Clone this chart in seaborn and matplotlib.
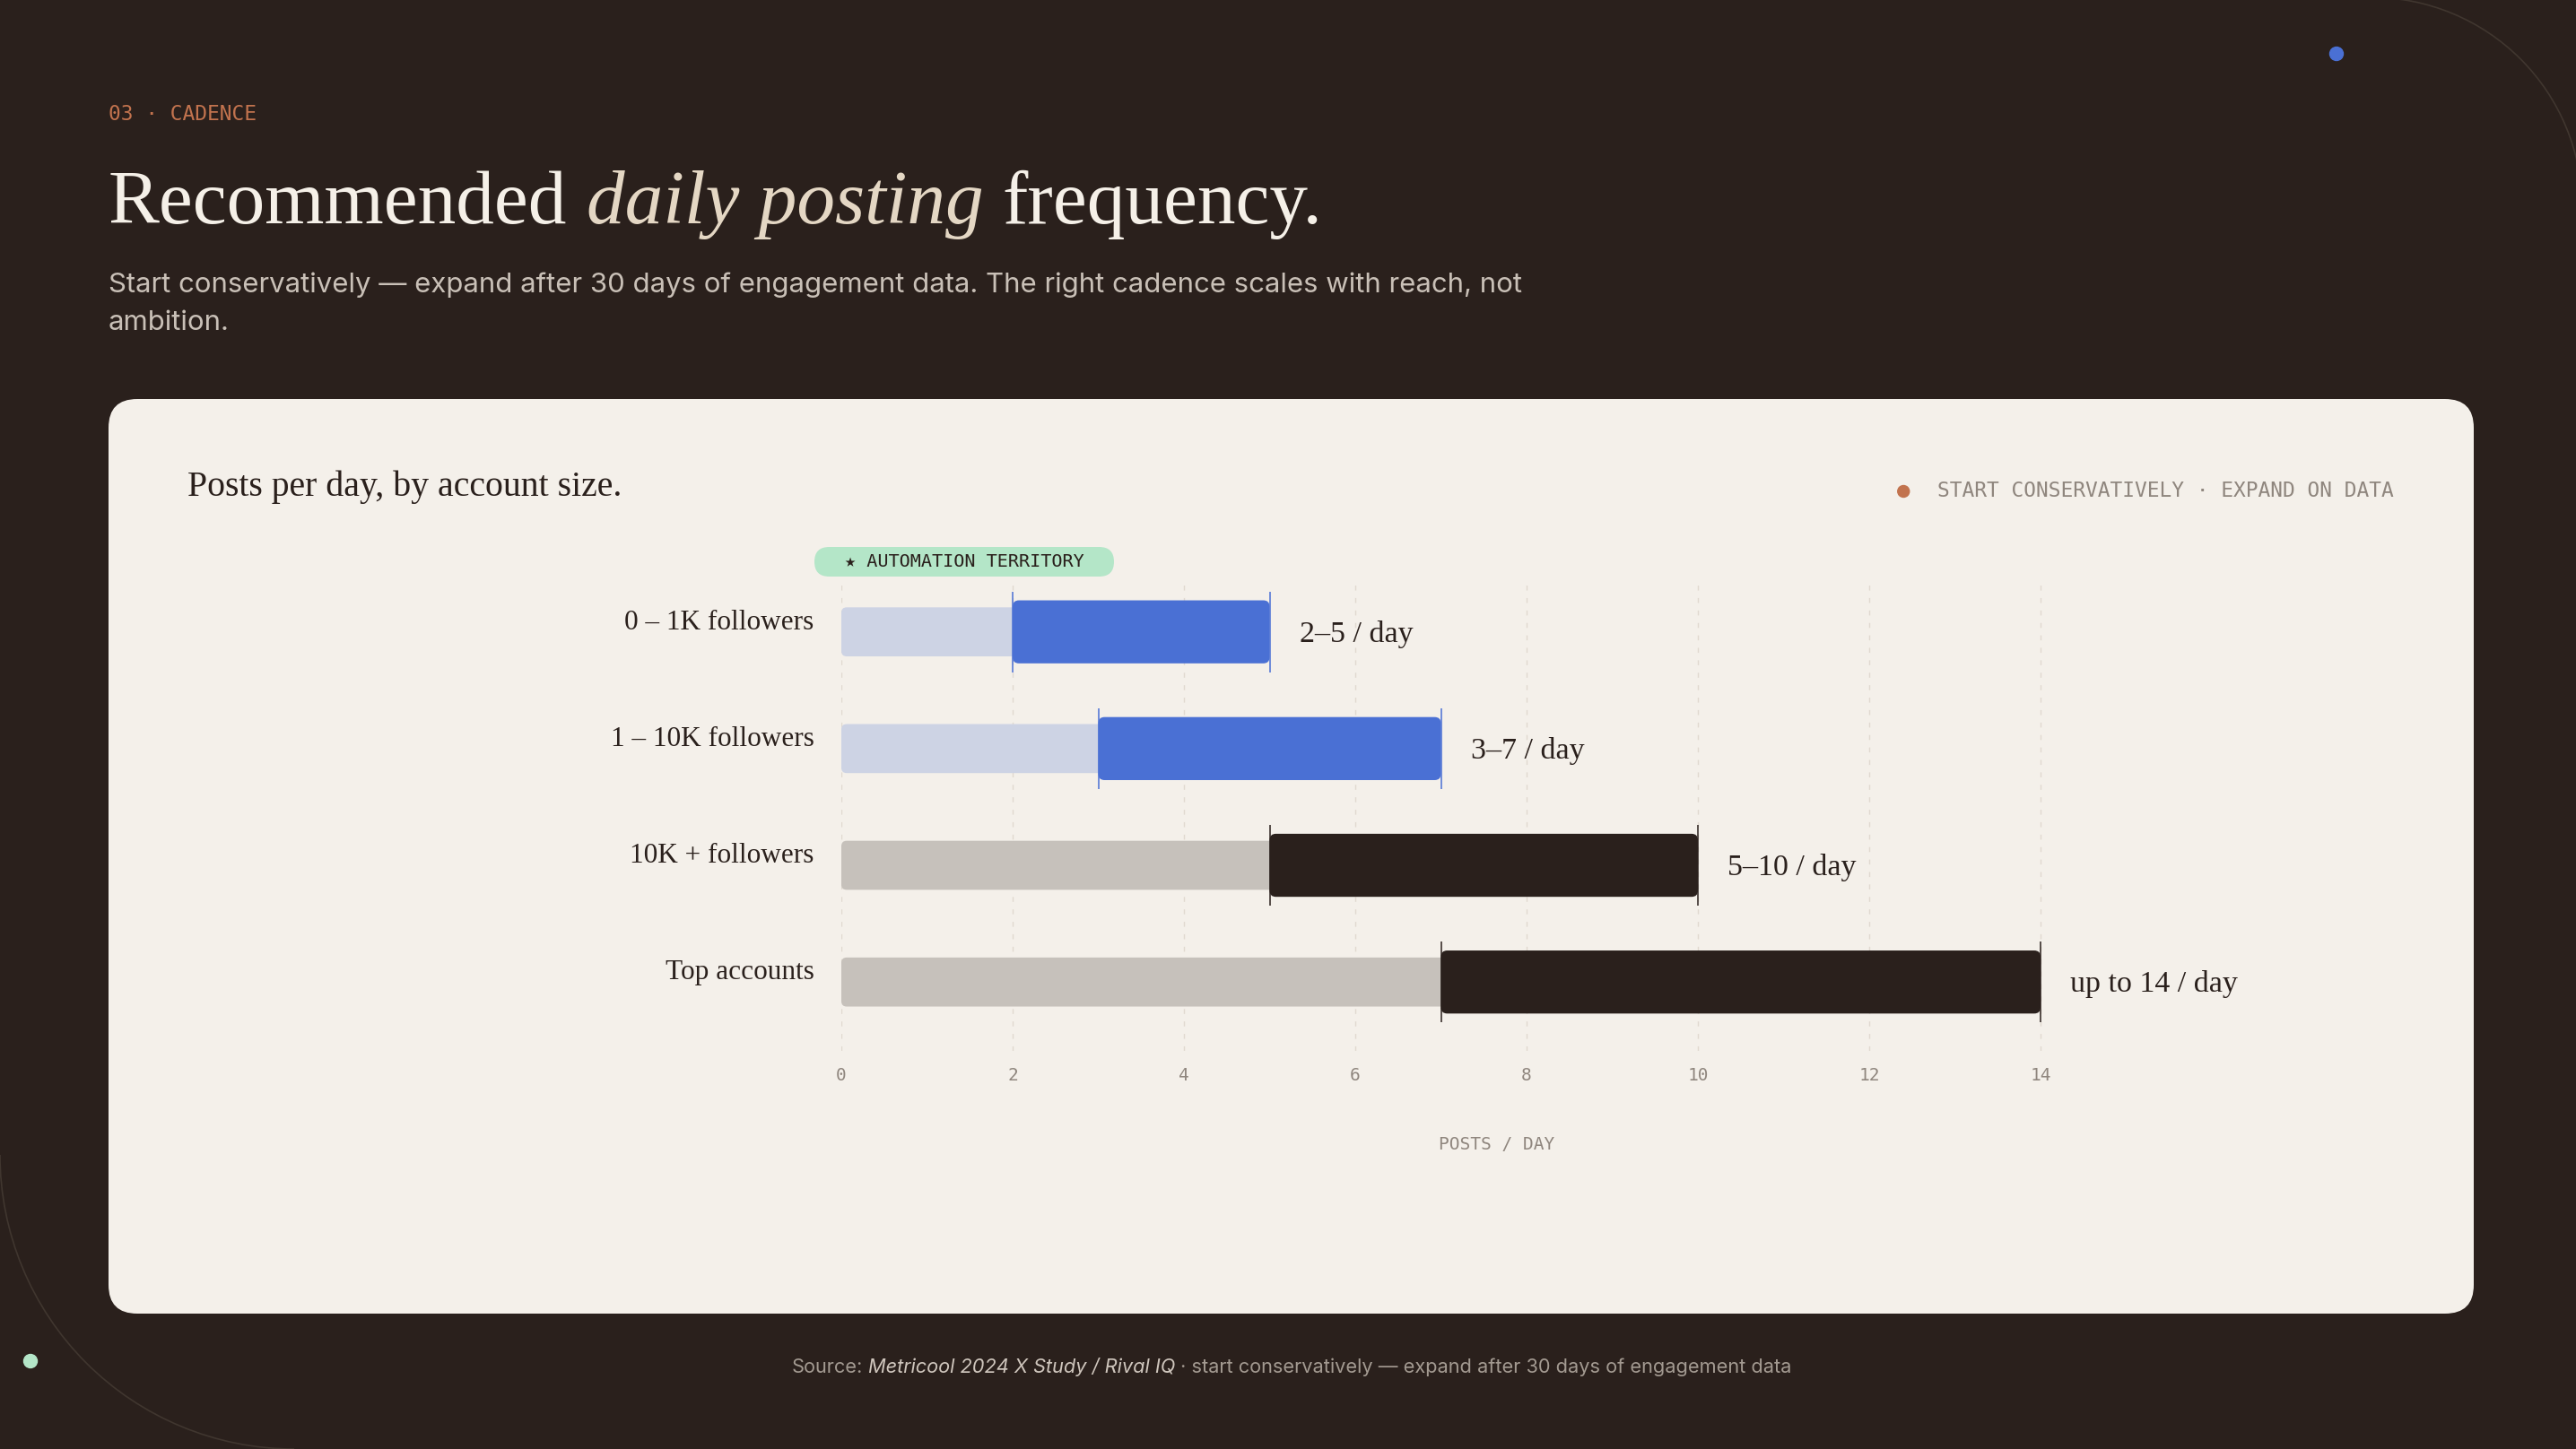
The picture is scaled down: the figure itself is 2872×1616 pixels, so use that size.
# Posting cadence chart: recommended posts per day by account size
import numpy as np
import pandas as pd
import matplotlib.pyplot as plt
import seaborn as sns
from matplotlib.patches import FancyBboxPatch, Arc, Circle

# Chart values
tiers = ["0 – 1K followers", "1 – 10K followers", "10K + followers", "Top accounts"]
posts_low = [2, 3, 5, 7]
posts_high = [5, 7, 10, 14]
range_labels = ["2–5 / day", "3–7 / day", "5–10 / day", "up to 14 / day"]
x_ticks = [0, 2, 4, 6, 8, 10, 12, 14]

# Colours
BG = "#2a201c"
CARD = "#f4f0ea"
INK = "#2a201c"
BLUE = "#4a70d4"
MINT = "#b4e6c8"
RUST = "#c2734e"
MUTED = "#8f867e"
GRID = "#e0d9d0"
track_colors = ["#cdd3e4", "#cdd3e4", "#c6c1bb", "#c6c1bb"]
range_colors = [BLUE, BLUE, INK, INK]

SERIF = ["Liberation Serif", "DejaVu Serif"]
SANS = ["Inter", "DejaVu Sans"]
MONO = ["DejaVu Sans Mono", "DejaVu Sans"]

W, H = 2872, 1616
sns.set_theme(style="white")
plt.rcParams["font.family"] = SANS

fig = plt.figure(figsize=(W / 100, H / 100), dpi=100, facecolor=BG)
renderer = fig.canvas.get_renderer()

# backdrop axes working in pixels, origin top left
bg = fig.add_axes([0, 0, 1, 1])
bg.set_xlim(0, W)
bg.set_ylim(H, 0)
bg.axis("off")

# decorative arcs and dots
bg.add_patch(Arc((2644, 232), 470, 470, theta1=270, theta2=360, color="#40362f", lw=1.2))
bg.add_patch(Arc((328, 1288), 656, 656, theta1=90, theta2=180, color="#40362f", lw=1.2))
bg.add_patch(Circle((2605, 60), 7.5, color=BLUE))
bg.add_patch(Circle((34, 1518), 7.5, color=MINT))

# card
bg.add_patch(FancyBboxPatch((121, 445), 2637, 1020, boxstyle="round,pad=0,rounding_size=32",
                            fc=CARD, ec="none"))


def measure(s, size, **kw):
    t = bg.text(0, 0, s, fontsize=size, **kw)
    w = t.get_window_extent(renderer=renderer).width
    t.remove()
    return w


def run(x, y, parts, size, target=None, align="left", **common):
    # lay text pieces side by side, optionally scaling them to a target width
    def layout(sz):
        widths, gaps = [], []
        for i, (s, st) in enumerate(parts):
            props = {**common, **st}
            widths.append(measure(s.strip(), sz, **props))
            nxt = parts[i + 1][0] if i < len(parts) - 1 else ""
            if nxt and (s.endswith(" ") or nxt.startswith(" ")):
                gaps.append(measure("x x", sz, **props) - measure("xx", sz, **props))
            else:
                gaps.append(0.0)
        return widths, gaps

    widths, gaps = layout(size)
    if target:
        size *= target / (sum(widths) + sum(gaps))
        widths, gaps = layout(size)
    total = sum(widths) + sum(gaps)
    x0 = {"left": x, "center": x - total / 2, "right": x - total}[align]
    for (s, st), w, g in zip(parts, widths, gaps):
        bg.text(x0, y, s.strip(), fontsize=size, ha="left", **{**common, **st})
        x0 += w + g
    return size


# header
bg.text(121, 128, "03 · CADENCE", family=MONO, fontsize=16.5, color=RUST, va="center")
run(121, 249, [("Recommended ", {"color": "#f5f0e8"}),
               ("daily posting ", {"color": "#e4d7c4", "style": "italic"}),
               ("frequency.", {"color": "#f5f0e8"})],
    60, target=1355, family=SERIF, va="baseline")
sub_size = run(121, 326, [("Start conservatively — expand after 30 days of engagement data. "
                           "The right cadence scales with reach, not", {})],
               20, target=1575, family=SANS, color="#c9c0b7", va="baseline")
bg.text(121, 368, "ambition.", family=SANS, fontsize=sub_size, color="#c9c0b7", va="baseline")

# card header and legend
run(209, 553, [("Posts per day, by account size.", {})], 28, target=484,
    family=SERIF, color=INK, va="baseline")
leg = bg.text(2669, 548, "START CONSERVATIVELY · EXPAND ON DATA", ha="right", va="center",
              family=MONO, fontsize=16.5, color=MUTED)
leg_left = leg.get_window_extent(renderer=renderer).x0
bg.add_patch(Circle((leg_left - 38, 548), 6.5, color=RUST))

# automation pill
bg.add_patch(FancyBboxPatch((908, 610), 334, 33, boxstyle="round,pad=0,rounding_size=16.5",
                            fc=MINT, ec="none"))
bg.text(1075, 627, "★ AUTOMATION TERRITORY", ha="center", va="center",
        family=MONO, fontsize=14.5, color=INK)

# footer
run(1440, 1531, [("Source: ", {"color": "#a39a91"}),
                 ("Metricool 2024 X Study / Rival IQ ", {"color": "#cfc6bd", "style": "italic"}),
                 ("· start conservatively — expand after 30 days of engagement data",
                  {"color": "#a39a91"})],
    14, target=1117, align="center", family=SANS, va="baseline")

# main chart
unit = (2275 - 938) / 14
x_max = 15.3
y_top, y_bot = -0.42, 3.59
ax_h = 1172 - 650
ax = fig.add_axes([938 / W, 1 - 1172 / H, x_max * unit / W, ax_h / H])
ax.set_facecolor("none")

df = pd.DataFrame({"tier": tiers, "low": posts_low, "high": posts_high})
sns.barplot(data=df, x="high", y="tier", hue="tier", palette=track_colors, width=0.42,
            saturation=1, errorbar=None, legend=False, dodge=False, ax=ax)
n_track = len(ax.patches)
sns.barplot(data=df, x="high", y="tier", hue="tier", palette=range_colors, width=0.54,
            saturation=1, errorbar=None, legend=False, dodge=False, ax=ax)

# swap seaborn's rectangles for rounded ones, range bars start at the low value
aspect = unit / (ax_h / (y_bot - y_top))
for k, p in enumerate(list(ax.patches)):
    i = int(round(p.get_y() + p.get_height() / 2))
    x0, w = p.get_x(), p.get_width()
    is_range = k >= n_track
    if is_range:
        x0, w = posts_low[i], posts_high[i] - posts_low[i]
    r = (7 if is_range else 6) / unit
    ax.add_patch(FancyBboxPatch((x0, p.get_y()), w, p.get_height(),
                                boxstyle=f"round,pad=0,rounding_size={r}",
                                mutation_aspect=aspect, fc=p.get_facecolor(), ec="none",
                                zorder=3 if is_range else 2))
    p.remove()

for i in range(len(tiers)):
    ax.vlines([posts_low[i], posts_high[i]], i - 0.345, i + 0.345, colors=range_colors[i],
              lw=1.1, zorder=4)
    ax.text(posts_high[i] + 0.35, i + 0.02, range_labels[i], family=SERIF, fontsize=24.5,
            color=INK, va="center", ha="left")
    ax.text(-0.32, i - 0.08, tiers[i], family=SERIF, fontsize=22.5, color=INK,
            va="center", ha="right")

ax.set_xlim(0, x_max)
ax.set_ylim(y_bot, y_top)
ax.set_yticks([])
ax.set_ylabel("")
ax.set_xticks(x_ticks)
ax.set_xticklabels([str(v) for v in x_ticks], family=MONO, fontsize=14, color=MUTED)
ax.tick_params(axis="x", length=0, pad=13)
ax.grid(axis="x", color=GRID, lw=1.0, ls=(0, (4, 6)))
ax.set_axisbelow(True)
sns.despine(ax=ax, left=True, bottom=True)
ax.set_xlabel("POSTS / DAY", family=MONO, fontsize=14, color=MUTED)
ax.xaxis.set_label_coords(0.5, -(1277 - 1172) / ax_h)
ax.xaxis.label.set_va("center")

fig.savefig("out.png", dpi=100, facecolor=BG)
plt.close()
